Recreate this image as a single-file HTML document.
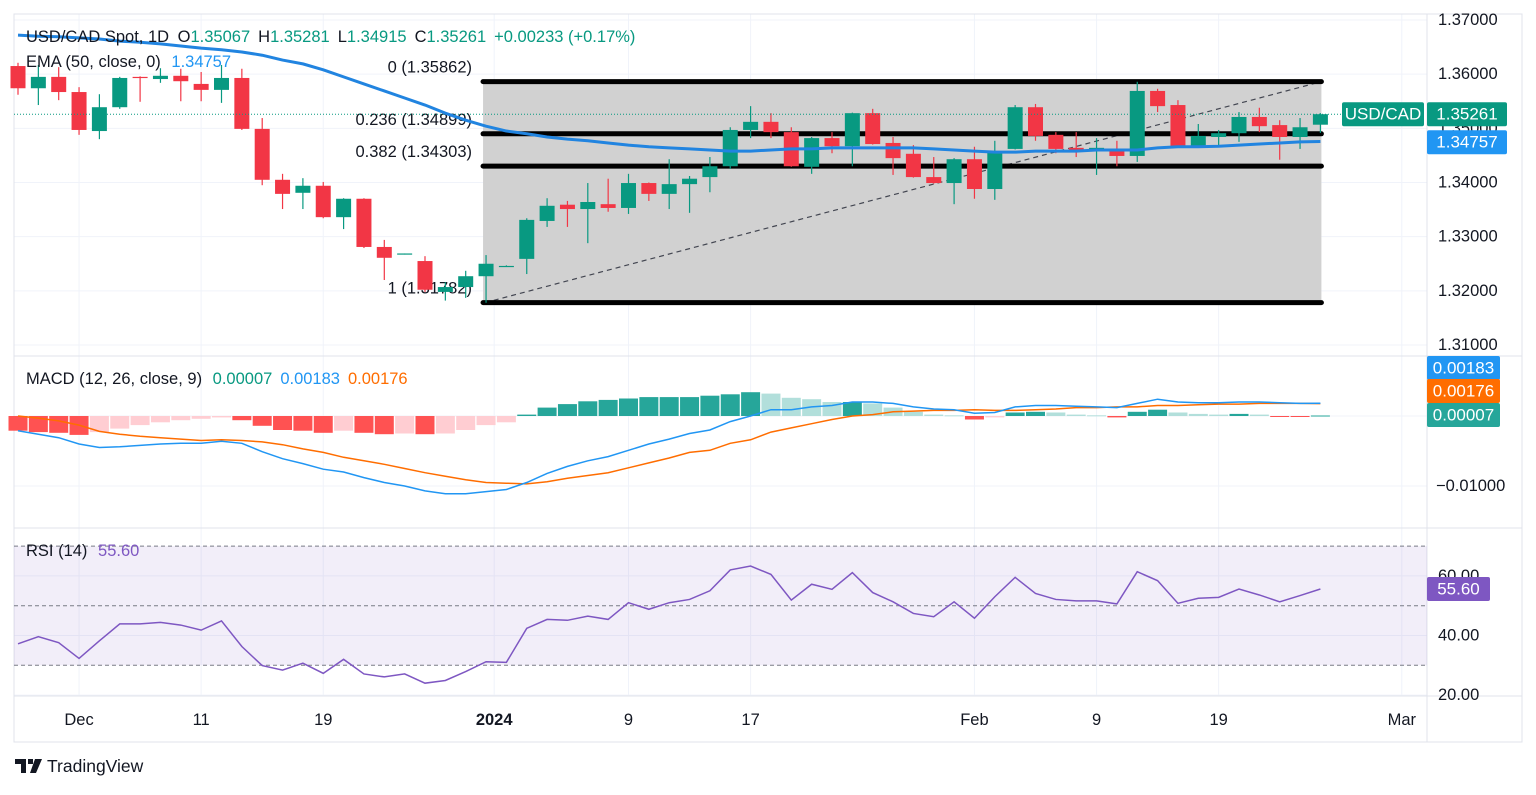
<!DOCTYPE html>
<html><head><meta charset="utf-8"><title>USD/CAD chart</title>
<style>
html,body{margin:0;padding:0;background:#fff;}
body{width:1536px;height:790px;overflow:hidden;font-family:"Liberation Sans",sans-serif;}
svg text{font-family:"Liberation Sans",sans-serif;}
</style></head>
<body>
<svg id="chart" width="1536" height="790" viewBox="0 0 1536 790" xmlns="http://www.w3.org/2000/svg">
  <rect x="0" y="0" width="1536" height="790" fill="#ffffff"/>
  <g id="grid"></g>
  <g id="fib"></g>
  <g id="candles"></g>
  <g id="ema"></g>
  <g id="macd"></g>
  <g id="rsi"></g>
  <g id="axes"></g>
  <g id="legend">
    <text x="26" y="42" font-size="16.5" fill="#131722">USD/CAD Spot, 1D <tspan dx="4">O</tspan><tspan fill="#089981">1.35067</tspan><tspan dx="8">H</tspan><tspan fill="#089981">1.35281</tspan><tspan dx="8">L</tspan><tspan fill="#089981">1.34915</tspan><tspan dx="8">C</tspan><tspan fill="#089981">1.35261</tspan><tspan dx="8" fill="#089981">+0.00233 (+0.17%)</tspan></text>
    <text x="26" y="67" font-size="16.5" fill="#131722">EMA (50, close, 0) <tspan dx="6" fill="#2196f3">1.34757</tspan></text>
    <text x="26" y="384" font-size="16.5" fill="#131722">MACD (12, 26, close, 9) <tspan dx="6" fill="#089981">0.00007</tspan><tspan dx="8" fill="#2196f3">0.00183</tspan><tspan dx="8" fill="#ff6d00">0.00176</tspan></text>
    <text x="26" y="556" font-size="16.5" fill="#131722">RSI (14) <tspan dx="6" fill="#7e57c2">55.60</tspan></text>
  </g>
  <g>
    <path d="M15 759h11v14h-5v-9h-6z M28 759h5v5h-5z M35 759h7l-6 14h-6z" fill="#131722"/>
    <text x="47" y="772" font-size="17.5" fill="#131722">TradingView</text>
  </g>
</svg>
<script>
// ---------- data ----------
const opens  = [1.3615,1.3574,1.3595,1.3567,1.3495,1.3539,1.3595,1.3591,1.3597,1.3582,1.3571,1.3593,1.3499,1.3405,1.3381,1.3394,1.3336,1.3370,1.3281,1.3268,1.3255,1.3198,1.3207,1.3227,1.3245,1.3259,1.3329,1.3359,1.3351,1.3360,1.3353,1.3399,1.3379,1.3397,1.3410,1.3430,1.3497,1.3512,1.3493,1.3429,1.3482,1.3467,1.3528,1.3473,1.3453,1.3410,1.3399,1.3443,1.3388,1.3462,1.3539,1.3488,1.3464,1.3460,1.3462,1.3449,1.3569,1.3543,1.3467,1.3484,1.3491,1.3521,1.3506,1.3484,1.35067];
const highs  = [1.3621,1.3617,1.3613,1.3576,1.3563,1.3595,1.3596,1.3611,1.3610,1.3604,1.3617,1.3610,1.3519,1.3416,1.3408,1.3401,1.3371,1.3371,1.3294,1.3269,1.3264,1.3216,1.3237,1.3266,1.3247,1.3334,1.3371,1.3366,1.3399,1.3407,1.3416,1.3400,1.3443,1.3412,1.3447,1.3502,1.3541,1.3528,1.3502,1.3484,1.3493,1.3529,1.3536,1.3484,1.3469,1.3447,1.3445,1.3466,1.3477,1.3543,1.3545,1.3493,1.3493,1.3482,1.3477,1.3586,1.3573,1.3552,1.3508,1.3497,1.3530,1.3538,1.3515,1.3519,1.35281];
const lows   = [1.3562,1.3543,1.3552,1.3488,1.3480,1.3536,1.3549,1.3584,1.3550,1.3550,1.3547,1.3497,1.3395,1.3351,1.3351,1.3334,1.3314,1.3279,1.3220,1.3267,1.3198,1.3182,1.3187,1.3178,1.3244,1.3231,1.3318,1.3318,1.3288,1.3346,1.3342,1.3366,1.3351,1.3344,1.3382,1.3425,1.3482,1.3482,1.3429,1.3416,1.3454,1.3430,1.3470,1.3414,1.3409,1.3398,1.3360,1.3370,1.3368,1.3461,1.3477,1.3454,1.3447,1.3414,1.3430,1.3438,1.3530,1.3466,1.3464,1.3469,1.3475,1.3493,1.3442,1.3462,1.34915];
const closes = [1.3574,1.3595,1.3567,1.3497,1.3539,1.3593,1.3593,1.3597,1.3587,1.3571,1.3593,1.3499,1.3405,1.3379,1.3394,1.3336,1.3370,1.3281,1.3261,1.3269,1.3202,1.3207,1.3227,1.3250,1.3246,1.3331,1.3357,1.3351,1.3364,1.3353,1.3399,1.3379,1.3397,1.3407,1.3430,1.3497,1.3512,1.3493,1.3430,1.3482,1.3467,1.3528,1.3471,1.3445,1.3410,1.3399,1.3443,1.3388,1.3458,1.3539,1.3486,1.3462,1.3458,1.3464,1.3449,1.3569,1.3541,1.3467,1.3486,1.3491,1.3521,1.3504,1.3484,1.3502,1.35261];
const emaValues = [1.3672,1.3670,1.3669,1.3667,1.3665,1.3661,1.3659,1.3656,1.3652,1.3648,1.3645,1.3641,1.3635,1.3626,1.3619,1.3608,1.3595,1.3582,1.3569,1.3556,1.3543,1.3528,1.3515,1.3504,1.3495,1.3490,1.3484,1.3480,1.3477,1.3473,1.3469,1.3466,1.3464,1.3462,1.3460,1.3458,1.3458,1.3460,1.3462,1.3462,1.3464,1.3464,1.3464,1.3464,1.3464,1.3462,1.3460,1.3458,1.3456,1.3456,1.3458,1.3458,1.3458,1.3460,1.3460,1.3460,1.3464,1.3466,1.3466,1.3467,1.3469,1.3471,1.3473,1.3475,1.34757];
const macdHist = [-0.0021,-0.0023,-0.0024,-0.0027,-0.0023,-0.0018,-0.0013,-0.0009,-0.0006,-0.0004,-0.0002,-0.0006,-0.0014,-0.0020,-0.0021,-0.0024,-0.0021,-0.0024,-0.0026,-0.0025,-0.0026,-0.0025,-0.0020,-0.0013,-0.0009,0.0002,0.0012,0.0017,0.0021,0.0023,0.0025,0.0027,0.0027,0.0027,0.0029,0.0031,0.0034,0.0032,0.0026,0.0024,0.0020,0.0020,0.0018,0.0012,0.0006,0.0002,0.0001,-0.0005,-0.0002,0.0005,0.0006,0.0005,0.0002,0.0001,-0.0002,0.0006,0.0009,0.0005,0.0003,0.0002,0.0003,0.0002,-0.0001,-0.0001,0.00007];
const macdLine = [-0.0021,-0.0026,-0.0031,-0.0040,-0.0045,-0.0044,-0.0042,-0.0040,-0.0039,-0.0039,-0.0036,-0.0039,-0.0051,-0.0061,-0.0068,-0.0076,-0.0080,-0.0088,-0.0095,-0.0100,-0.0107,-0.0111,-0.0111,-0.0108,-0.0105,-0.0095,-0.0082,-0.0072,-0.0064,-0.0058,-0.0049,-0.0040,-0.0033,-0.0025,-0.0020,-0.0008,0.0000,0.0009,0.0009,0.0013,0.0015,0.0020,0.0020,0.0018,0.0013,0.0010,0.0009,0.0004,0.0005,0.0013,0.0015,0.0015,0.0014,0.0013,0.0012,0.0018,0.0024,0.0020,0.0019,0.0019,0.0020,0.0020,0.0019,0.0018,0.00183];
const signalLine = [0.0000,-0.0003,-0.0007,-0.0013,-0.0022,-0.0026,-0.0029,-0.0031,-0.0033,-0.0035,-0.0034,-0.0035,-0.0037,-0.0041,-0.0047,-0.0052,-0.0059,-0.0064,-0.0069,-0.0075,-0.0081,-0.0086,-0.0091,-0.0095,-0.0096,-0.0097,-0.0094,-0.0089,-0.0085,-0.0081,-0.0074,-0.0067,-0.0060,-0.0052,-0.0049,-0.0039,-0.0034,-0.0023,-0.0017,-0.0011,-0.0005,0.0000,0.0002,0.0006,0.0007,0.0008,0.0008,0.0009,0.0008,0.0008,0.0009,0.0010,0.0012,0.0012,0.0013,0.0013,0.0015,0.0015,0.0016,0.0017,0.0017,0.0018,0.0018,0.0018,0.00176];
const rsiValues = [37.2,39.6,37.6,32.3,38.2,43.9,43.9,44.4,43.5,41.8,44.9,36.3,29.9,28.4,30.7,27.3,32.0,27.1,26.1,27.1,24.0,24.9,27.9,31.2,31.0,42.4,45.4,45.1,46.5,45.4,51.0,48.8,51.0,52.1,55.0,62.0,63.3,60.5,51.9,57.2,55.5,61.1,54.4,51.3,47.4,46.3,51.3,45.8,53.0,59.5,54.1,52.1,51.6,51.6,50.6,61.4,58.4,50.8,52.5,52.8,55.6,53.6,51.3,53.4,55.60];
const fibLevels = [1.35862,1.34899,1.34303,1.31782];
const fibRatios = ["0","0.236","0.382","1"];
const priceTicks = [1.37,1.36,1.35,1.34,1.33,1.32,1.31];
const priceTickLabels = ["1.37000","1.36000","1.35000","1.34000","1.33000","1.32000","1.31000"];
const macdTicks = [-0.01];
const macdTickLabels = ["−0.01000"];
const rsiTicks = [60,40,20];
const rsiTickLabels = ["60.00","40.00","20.00"];
const dateIndex = [3,9,15,23.4,30,36,47,53,59,68];
const dateLabels = ["Dec","11","19","2024","9","17","Feb","9","19","Mar"];

// ---------- scales ----------
const xOf = i => 18 + 20.35 * i;
const pY = p => 20 + (1.37 - p) * 5416.7;
const mY = v => 416 - v * 7000;
const rY = v => 605.7 - (v - 50) * 2.98;
const NS = "http://www.w3.org/2000/svg";
function mk(tag, attrs, parent){ const e=document.createElementNS(NS,tag); for(const k in attrs) e.setAttribute(k,attrs[k]); parent.appendChild(e); return e; }
const G = id => document.getElementById(id);
const PL = 14, PR = 1427;

// ---------- grid & frame ----------
const grid = G('grid');
dateIndex.forEach(di=>{ const x=xOf(di); const l=mk('line',{x1:x,x2:x,y1:14,y2:696,stroke:'#f0f3fa','stroke-width':1},grid);
  
   });
priceTicks.forEach(p=>{ const l=mk('line',{x1:PL,x2:PR,y1:pY(p),y2:pY(p),stroke:'#f0f3fa'},grid);
  
   });
[0,-0.01].forEach(v=>{ const l=mk('line',{x1:PL,x2:PR,y1:mY(v),y2:mY(v),stroke:'#f0f3fa'},grid);
  
   });
[60,40,20].forEach(v=>{ const l=mk('line',{x1:PL,x2:PR,y1:rY(v),y2:rY(v),stroke:'#f0f3fa'},grid);
  
   });
const fr = mk('rect',{x:PL,y:14,width:1522-PL,height:742-14,fill:'none',stroke:'#e0e3eb'},grid);


[[PR,14,PR,742],[PL,356,1522,356],[PL,528,1522,528],[PL,696,1522,696]].forEach(a=>{
  const l=mk('line',{x1:a[0],y1:a[1],x2:a[2],y2:a[3],stroke:'#e0e3eb'},grid);
  
   });

// ---------- fib ----------
const fib = G('fib');
const fx1 = xOf(23)-3, fx2 = xOf(64)+1;
const fb = mk('rect',{x:fx1,y:pY(fibLevels[0]),width:fx2-fx1,height:pY(fibLevels[3])-pY(fibLevels[0]),fill:'#d1d1d1'},fib);


const dl = mk('line',{x1:fx1+2,y1:pY(fibLevels[3]),x2:fx2,y2:pY(fibLevels[0]),stroke:'#434651','stroke-width':1.2,'stroke-dasharray':'5 4'},fib);


fibLevels.forEach((lv,k)=>{
  const y=pY(lv);
  const l=mk('line',{x1:fx1,x2:fx2,y1:y,y2:y,stroke:'#000','stroke-width':5,'stroke-linecap':'round'},fib);
  
  
  const t=mk('text',{x:472,y:y-9,'font-size':16.5,'text-anchor':'end',fill:'#131722'},fib);
  t.textContent = fibRatios[k]+' ('+lv.toFixed(5)+')';
  
  
});

// ---------- candles ----------
const cg = G('candles');
opens.forEach((o,i)=>{
  const c=closes[i], up=c>=o, col=up?'#089981':'#f23645', x=xOf(i);
  const w=mk('line',{x1:x,x2:x,y1:pY(highs[i]),y2:pY(lows[i]),stroke:col,'stroke-width':1.2},cg);
  
  
  const top=pY(Math.max(o,c)), h=Math.max(1.2,Math.abs(pY(o)-pY(c)));
  const b=mk('rect',{x:x-7.5,y:top,width:15,height:h,fill:col},cg);
  
  
});
const cp = mk('line',{x1:PL,x2:1342,y1:pY(closes[closes.length-1]),y2:pY(closes[closes.length-1]),stroke:'#089981','stroke-dasharray':'1 2'},cg);



// ---------- EMA ----------
const ema = mk('polyline',{points:emaValues.map((v,i)=>xOf(i)+','+pY(v)).join(' '),fill:'none',stroke:'#2184e0','stroke-width':3,'stroke-linejoin':'round'},G('ema'));



// ---------- MACD ----------
const mg = G('macd');
macdHist.forEach((v,i)=>{
  const prev = i>0?macdHist[i-1]:v;
  let col;
  if(v>=0) col = v>=prev?'#26a69a':'#b2dfdb'; else col = v<=prev?'#ff5252':'#ffcdd2';
  const y1=mY(Math.max(v,0)), y2=mY(Math.min(v,0));
  const r=mk('rect',{x:xOf(i)-9.5,y:y1,width:19,height:Math.max(1,y2-y1),fill:col},mg);
  
  
});
const sl = mk('polyline',{points:signalLine.map((v,i)=>xOf(i)+','+mY(v)).join(' '),fill:'none',stroke:'#ff6d00','stroke-width':1.5},mg);


const ml = mk('polyline',{points:macdLine.map((v,i)=>xOf(i)+','+mY(v)).join(' '),fill:'none',stroke:'#2196f3','stroke-width':1.5},mg);



// ---------- RSI ----------
const rg = G('rsi');
const band = mk('rect',{x:PL,y:rY(70),width:PR-PL,height:rY(30)-rY(70),fill:'#7e57c2','fill-opacity':0.1},rg);


[70,50,30].forEach(v=>{ const l=mk('line',{x1:PL,x2:PR,y1:rY(v),y2:rY(v),stroke:'#787b86','stroke-dasharray':'4 3'},rg);
  
   });
const rl = mk('polyline',{points:rsiValues.map((v,i)=>xOf(i)+','+rY(v)).join(' '),fill:'none',stroke:'#7e57c2','stroke-width':1.5},rg);



// ---------- axes ----------
const ax = G('axes');
function lbl(x,y,txt,name,anchor,col,size){ const t=mk('text',{x:x,y:y,'font-size':size||16.5,'text-anchor':anchor||'start',fill:col||'#131722','dominant-baseline':'central'},ax); t.textContent=txt;
  
   return t; }
priceTicks.forEach((p,k)=>lbl(1438,pY(p),priceTickLabels[k],'price-tick-label'));
macdTicks.forEach((v,k)=>lbl(1436,mY(v),macdTickLabels[k],'macd-tick-label'));
rsiTicks.forEach((v,k)=>lbl(1438,rY(v),rsiTickLabels[k],'rsi-tick-label'));
dateIndex.forEach((di,k)=>{ const t=lbl(xOf(di),720,dateLabels[k],'date-tick-label','middle');
  if(dateLabels[k]==='2024') t.setAttribute('font-weight','bold'); });
function badge(x,y,w,txt,col,name){ const r=mk('rect',{x:x,y:y-12,width:w,height:24,rx:2,fill:col},ax);
  
  
  const t=mk('text',{x:x+w/2,y:y,'font-size':17,'text-anchor':'middle',fill:'#fff','dominant-baseline':'central'},ax); t.textContent=txt;
  
   }
const lastP = closes[closes.length-1];
badge(1342,pY(lastP),82,'USD/CAD','#089981','symbol-badge');
badge(1427,pY(lastP),80,lastP.toFixed(5),'#089981','last-price-badge');
badge(1427,pY(lastP)+28,80,emaValues[emaValues.length-1].toFixed(5),'#2196f3','ema-price-badge');
badge(1427,368,73,macdLine[macdLine.length-1].toFixed(5),'#2196f3','macd-value-badge');
badge(1427,391,73,signalLine[signalLine.length-1].toFixed(5),'#ff6d00','signal-value-badge');
badge(1427,415,73,macdHist[macdHist.length-1].toFixed(5),'#26a69a','histogram-value-badge');
badge(1427,589,63,rsiValues[rsiValues.length-1].toFixed(2),'#7e57c2','rsi-value-badge');
</script>
</body></html>
